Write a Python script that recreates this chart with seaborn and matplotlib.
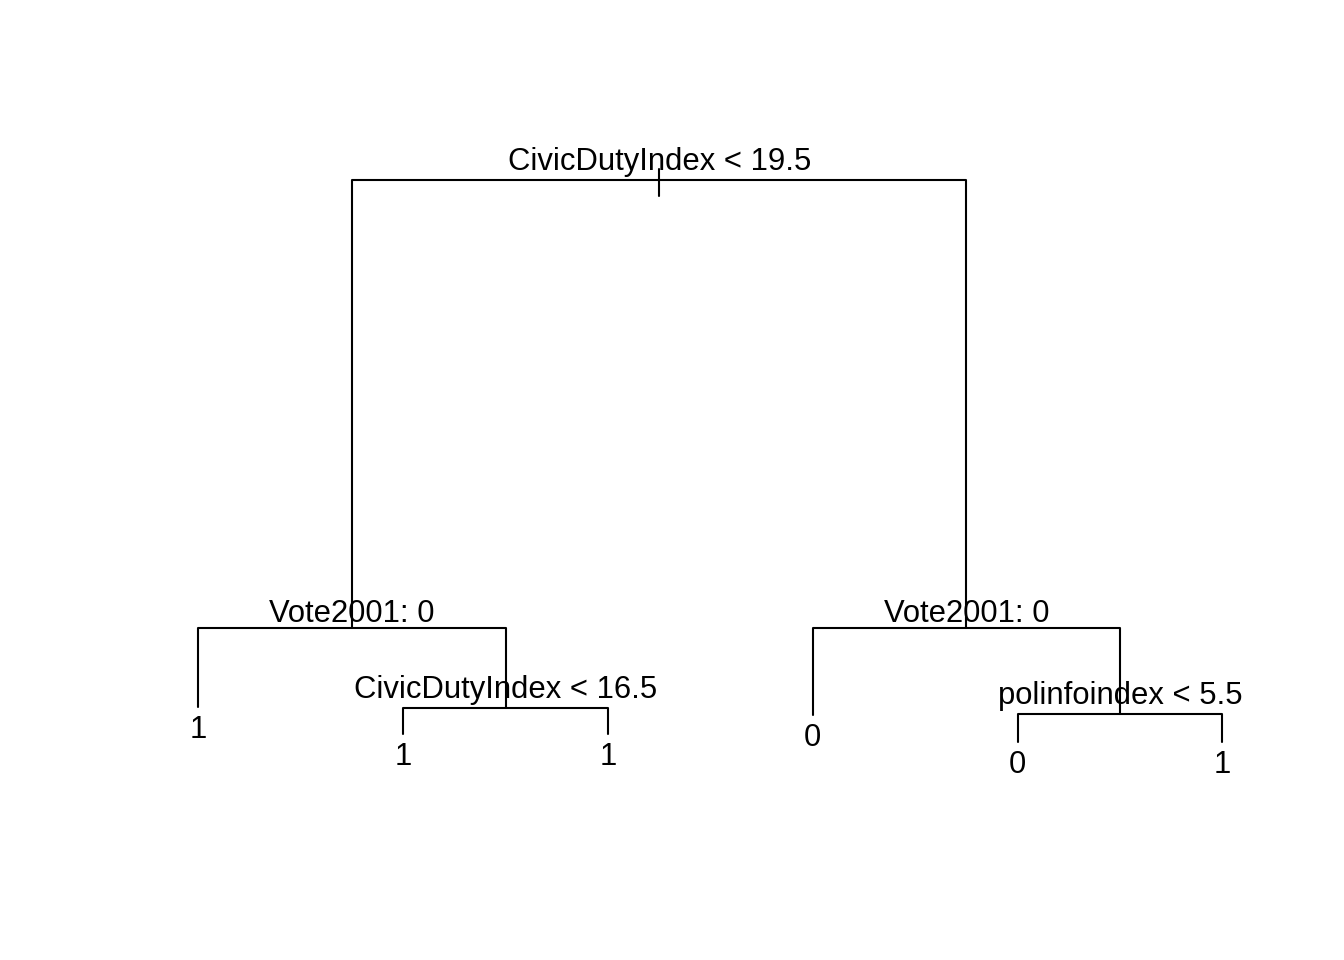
"""
Classification tree for turnout (R tree-style dendrogram) drawn with seaborn.
"""

import matplotlib

matplotlib.use("Agg")
import matplotlib.pyplot as plt
import pandas as pd
import seaborn as sns

# tree nodes in R numbering: children of n are 2n and 2n+1
node_ids = [1, 2, 3, 4, 5, 6, 7, 10, 11, 14, 15]
node_labels = [
    "CivicDutyIndex < 19.5",
    "Vote2001: 0",
    "Vote2001: 0",
    "1",
    "CivicDutyIndex < 16.5",
    "0",
    "polinfoindex < 5.5",
    "1",
    "1",
    "0",
    "1",
]
node_dev = [1146, 248, 248, 89, 88, 74, 76, 36, 36, 20, 20]
leaf_order = [4, 10, 11, 6, 14, 15]

LINE_COLOR = "black"
FONT = ["Liberation Sans", "DejaVu Sans"]
FONT_SIZE = 22.3


def node_positions() -> dict:
    """Leaves evenly spaced, internal nodes at the midpoint of their children."""
    xpos = {n: i + 1 for i, n in enumerate(leaf_order)}

    def place(n):
        if n not in xpos:
            xpos[n] = (place(2 * n) + place(2 * n + 1)) / 2
        return xpos[n]

    place(1)
    return xpos


xpos = node_positions()
dev = dict(zip(node_ids, node_dev))
labels = dict(zip(node_ids, node_labels))

# one path per child: across from the parent, then down to the child
rows = []
for n in node_ids[1:]:
    p = n // 2
    for k, (x, y) in enumerate([(xpos[p], dev[p]), (xpos[n], dev[p]), (xpos[n], dev[n])]):
        rows.append({"node": n, "step": k, "x": x, "y": y})
segments = pd.DataFrame(rows)

sns.set_theme(style="white")
plt.rcParams["font.family"] = FONT

fig = plt.figure(figsize=(13.44, 9.6), dpi=100)
# R default margins on a 7x5 inch device
fig.subplots_adjust(left=0.82 / 7, right=1 - 0.42 / 7, bottom=1.02 / 5, top=1 - 0.82 / 5)
ax = fig.add_subplot(111)

sns.lineplot(
    data=segments,
    x="x",
    y="y",
    units="node",
    estimator=None,
    sort=False,
    color=LINE_COLOR,
    linewidth=1.5,
    legend=False,
    ax=ax,
)

xs = list(xpos.values())
x0, x1 = min(xs), max(xs)
y0, y1 = min(node_dev), max(node_dev)
ax.set_xlim(x0 - 0.04 * (x1 - x0), x1 + 0.04 * (x1 - x0))
ax.set_ylim(y0 - 0.04 * (y1 - y0), y1 + 0.04 * (y1 - y0))
yr = 1.08 * (y1 - y0)

# short stub through the root
ax.plot([xpos[1], xpos[1]], [dev[1] - 0.026 * yr, dev[1] + 0.018 * yr], color=LINE_COLOR, linewidth=1.5)

leaves = set(leaf_order)
for n in node_ids:
    if n in leaves:
        offset = -31
    else:
        offset = 10 if any(c in "gjpqy" for c in labels[n]) else 6
    ax.annotate(
        labels[n],
        xy=(xpos[n], dev[n]),
        xytext=(0, offset * 0.72),
        textcoords="offset points",
        ha="center",
        va="baseline",
        fontsize=FONT_SIZE,
        color="black",
    )

ax.set_axis_off()
fig.savefig("out.png", dpi=100, facecolor="white")
